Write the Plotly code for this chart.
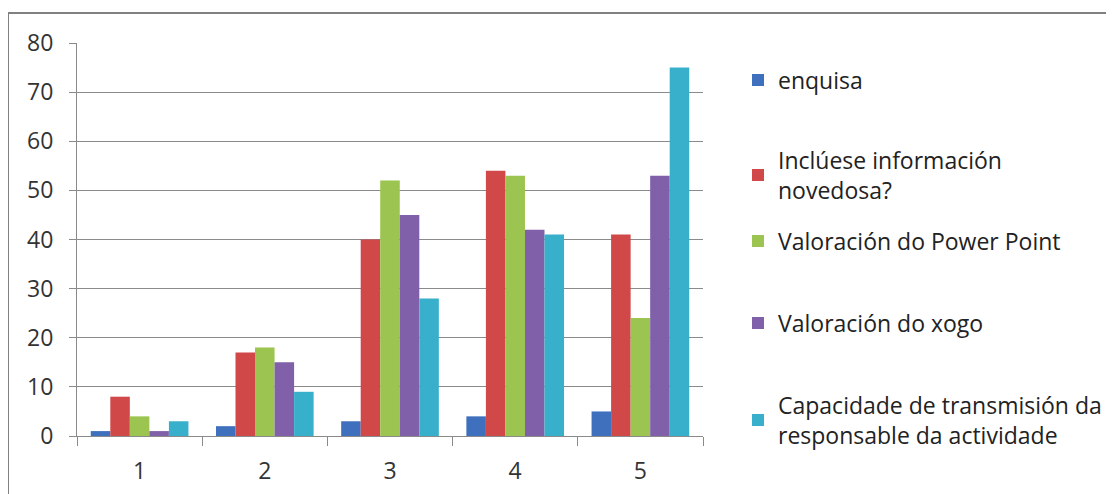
import plotly.graph_objects as go

categories = ["1", "2", "3", "4", "5"]
series_names = [
    "enquisa",
    "Inclúese información<br>novedosa?",
    "Valoración do Power Point",
    "Valoración do xogo",
    "Capacidade de transmisión da<br>responsable da actividade",
]
enquisa = [1, 2, 3, 4, 5]
inclúese = [8, 17, 40, 54, 41]
power_point = [4, 18, 52, 53, 24]
xogo = [1, 15, 45, 42, 53]
capacidade = [3, 9, 28, 41, 75]
y_ticks = [0, 10, 20, 30, 40, 50, 60, 70, 80]

series_values = [enquisa, inclúese, power_point, xogo, capacidade]
colors = ["#3F70BE", "#D04848", "#9CC450", "#8060A8", "#38B0CC"]

# the page body has an 8px margin, so the figure starts at (8, 8) on screen
OFF = 8
W, H = 1114 - OFF, 494 - OFF
PLOT_L, PLOT_R, PLOT_T, PLOT_B = 77, 703, 43, 436  # screen pixels
L, T = PLOT_L - OFF, PLOT_T - OFF
R, B = W - (PLOT_R - OFF), H - (PLOT_B - OFF)
PW, PH = PLOT_R - PLOT_L, PLOT_B - PLOT_T


def px_x(p):
    return (p - PLOT_L) / PW


def px_y(p):
    return (PLOT_B - p) / PH


legend_centers = [80, 175, 241, 323, 420]

fig = go.Figure()
legend_keys = ["legend", "legend2", "legend3", "legend4", "legend5"]
for i, (name, vals, col) in enumerate(zip(series_names, series_values, colors)):
    fig.add_trace(go.Bar(
        x=categories, y=vals, name=name,
        marker=dict(color=col, line=dict(width=0)),
        legend=legend_keys[i],
    ))

FONT = "Open Sans, Lato, sans-serif"
legend_font = dict(family=FONT, size=23, color="#222222")
legend_layouts = {}
for i, key in enumerate(legend_keys):
    legend_layouts[key] = dict(
        x=px_x(738), y=px_y(legend_centers[i]), xanchor="left", yanchor="middle",
        font=legend_font, bgcolor="rgba(0,0,0,0)", borderwidth=0,
        itemwidth=30, traceorder="normal",
    )

fig.update_layout(
    width=W, height=H,
    margin=dict(l=L, r=R, t=T, b=B, pad=0, autoexpand=False),
    paper_bgcolor="white", plot_bgcolor="white",
    barmode="group", bargap=0.22, bargroupgap=0,
    showlegend=True,
    font=dict(family=FONT, color="#333333"),
    xaxis=dict(
        type="category", tickson="boundaries", ticks="outside", ticklen=9,
        tickcolor="#8a8a8a", tickwidth=1,
        showline=True, linecolor="#8a8a8a", linewidth=1,
        showgrid=False, tickfont=dict(size=23, color="#333333"),
        ticklabelstandoff=14,
        automargin=False, fixedrange=True,
    ),
    yaxis=dict(
        range=[0, 80], tickvals=y_ticks, ticks="outside", ticklen=7,
        tickcolor="#8a8a8a", showline=True, linecolor="#8a8a8a", linewidth=1,
        showgrid=True, gridcolor="#8a8a8a", gridwidth=1, zeroline=False,
        tickfont=dict(size=23, color="#333333"),
        ticklabelstandoff=11,
        automargin=False, fixedrange=True,
    ),
    **legend_layouts,
)

# decorative beige background piece left of the frame
fig.add_shape(type="rect", xref="paper", yref="paper",
              x0=px_x(-5), x1=px_x(8), y0=px_y(500), y1=px_y(228),
              fillcolor="#FBE8C4", line=dict(width=0), layer="below")
# chart frame
fig.add_shape(type="rect", xref="paper", yref="paper",
              x0=px_x(8), x1=px_x(1113), y0=px_y(510), y1=px_y(13),
              line=dict(color="#808080", width=2), fillcolor="rgba(0,0,0,0)",
              layer="below")

fig.write_html("out.html")
